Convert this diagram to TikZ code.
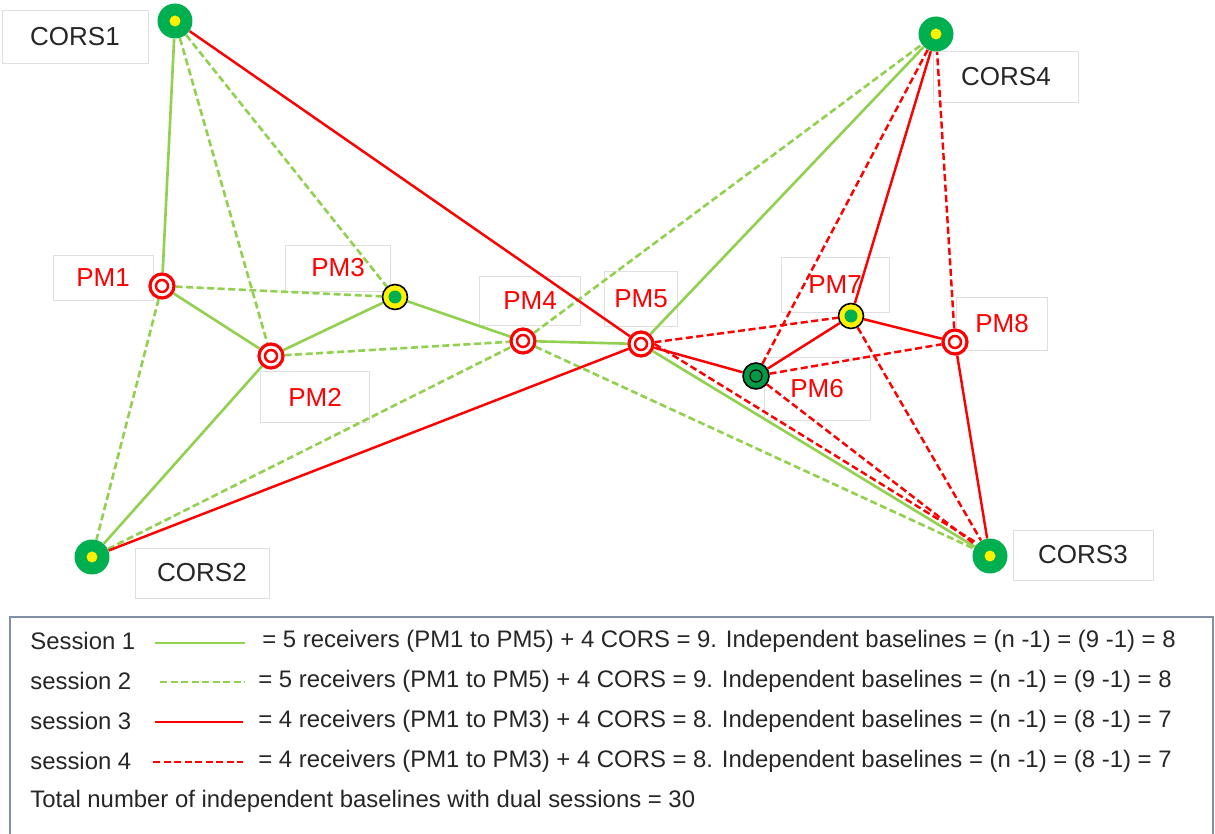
\documentclass[tikz,border=0pt]{standalone}
\usepackage{fontspec}
\setmainfont{Liberation Sans}
\usepackage{xcolor}
\usepackage{tikz}
\usetikzlibrary{positioning,backgrounds}

\definecolor{corsgreen}{HTML}{00B050}
\definecolor{pmgreen}{HTML}{009A44}
\definecolor{linegreen}{HTML}{92D050}
\definecolor{darktext}{HTML}{262626}
\definecolor{legframe}{HTML}{8090A8}

\begin{document}
\begin{tikzpicture}[x=0.02cm, y=-0.02cm,
    cors/.style={circle, fill=corsgreen, minimum size=0.7cm, inner sep=0pt,
        path picture={\fill[yellow] (path picture bounding box.center) circle (0.11cm);}},
    pmred/.style={circle, draw=red, line width=1.8pt, fill=white, minimum size=0.48cm, inner sep=0pt,
        path picture={\draw[red, line width=1.4pt] (path picture bounding box.center) circle (0.12cm);}},
    pmyel/.style={circle, draw=black, line width=0.9pt, fill=yellow, minimum size=0.5cm, inner sep=0pt,
        path picture={\fill[corsgreen] (path picture bounding box.center) circle (0.13cm);}},
    pmdark/.style={circle, draw=black, line width=0.9pt, fill=pmgreen, minimum size=0.52cm, inner sep=0pt,
        path picture={\draw[black, line width=0.7pt] (path picture bounding box.center) circle (0.12cm);}},
    namebox/.style={rectangle, draw=gray!25, fill=white, inner sep=0pt, font=\fontsize{14.8}{17}\selectfont},
    corsname/.style={namebox, text=darktext},
    pmname/.style={namebox, text=red},
    solidg/.style={linegreen, line width=1.5pt},
    dashg/.style={linegreen, line width=1.5pt, dash pattern=on 4pt off 2pt},
    solidr/.style={red, line width=1.4pt},
    dashr/.style={red, line width=1.4pt, dash pattern=on 4pt off 2pt},
    legtext/.style={anchor=west, inner sep=0pt, text=darktext, font=\fontsize{13.6}{16}\selectfont}
]
\useasboundingbox (0,0) rectangle (1215,834);

\node[cors] (c1) at (175,21) {};
\node[cors] (c2) at (92,557) {};
\node[cors] (c3) at (990,556) {};
\node[cors] (c4) at (936,34) {};

\node[pmred] (p1) at (162,286) {};
\node[pmred] (p2) at (271,356) {};
\node[pmyel] (p3) at (395,297) {};
\node[pmred] (p4) at (523,341) {};
\node[pmred] (p5) at (641,344) {};
\node[pmdark] (p6) at (756,376) {};
\node[pmyel] (p7) at (851,316) {};
\node[pmred] (p8) at (955,342) {};

\begin{scope}[on background layer]
\node[corsname, minimum width=2.92cm, minimum height=1.06cm] (lc1) at (75,37) {CORS1};
\node[corsname, minimum width=2.68cm, minimum height=1.0cm] (lc2) at (202,573) {CORS2};
\node[corsname, minimum width=2.8cm, minimum height=1.0cm] (lc3) at (1083,555) {CORS3};
\node[corsname, minimum width=2.9cm, minimum height=1.02cm] (lc4) at (1006,77) {CORS4};

\node[pmname, minimum width=2.0cm, minimum height=0.9cm] (lp1) at (103,278) {PM1};
\node[pmname, minimum width=2.18cm, minimum height=1.02cm] (lp2) at (315,397) {PM2};
\node[pmname, minimum width=2.1cm, minimum height=0.92cm] (lp3) at (338,268) {PM3};
\node[pmname, minimum width=2.02cm, minimum height=0.98cm] (lp4) at (530,301) {PM4};
\node[pmname, minimum width=1.46cm, minimum height=1.1cm] (lp5) at (641,299) {PM5};
\node[pmname, minimum width=2.12cm, minimum height=1.26cm] (lp6) at (817,389) {PM6};
\node[pmname, minimum width=2.16cm, minimum height=1.1cm] (lp7) at (835,285) {PM7};
\node[pmname, minimum width=1.82cm, minimum height=1.06cm] (lp8) at (1002,324) {PM8};

\draw[dashg] (c1) -- (p2);
\draw[dashg] (c1) -- (p3);
\draw[dashg] (p1) -- (p3);
\draw[dashg] (p1) -- (c2);
\draw[dashg] (p2) -- (p4);
\draw[dashg] (c2) -- (p4);
\draw[dashg] (p4) -- (c4);
\draw[dashg] (p4) -- (c3);

\draw[solidg] (c1) -- (p1);
\draw[solidg] (p1) -- (p2);
\draw[solidg] (p2) -- (p3);
\draw[solidg] (p3) -- (p4);
\draw[solidg] (p4) -- (p5);
\draw[solidg] (p2) -- (c2);
\draw[solidg] (p5) -- (c4);
\draw[solidg] (p5) -- (c3);

\draw[solidr] (c1) -- (p5);
\draw[solidr] (c2) -- (p5);
\draw[solidr] (p5) -- (p6);
\draw[solidr] (p6) -- (p7);
\draw[solidr] (p7) -- (p8);
\draw[solidr] (p7) -- (c4);
\draw[solidr] (p8) -- (c3);

\draw[dashr] (p5) -- (p7);
\draw[dashr] (p6) -- (c4);
\draw[dashr] (p8) -- (c4);
\draw[dashr] (p6) -- (p8);
\draw[dashr] (p7) -- (c3);
\draw[dashr] (p6) -- (c3);
\draw[dashr] (p5.east) -- (c3.north west);
\end{scope}

\draw[legframe, line width=0.8pt] (10,840) -- (10,617) -- (1213,617) -- (1213,840);

\node[legtext] (k1) at (30,641) {Session 1};
\node[legtext] (k2) at (30,681) {session 2};
\node[legtext] (k3) at (30,721) {session 3};
\node[legtext] (k4) at (30,761) {session 4};
\node[legtext] (k5) at (30,801) {Total number of independent baselines with dual sessions = 30};

\coordinate (a1) at (155,643);
\coordinate (b1) at (245,643);
\coordinate (a2) at (160,682);
\coordinate (b2) at (245,682);
\coordinate (a3) at (155,722);
\coordinate (b3) at (243,722);
\coordinate (a4) at (153,762);
\coordinate (b4) at (243,762);
\draw[solidg] (a1) -- (b1);
\draw[dashg] (a2) -- (b2);
\draw[solidr] (a3) -- (b3);
\draw[dashr] (a4) -- (b4);

\node[legtext] (t1) at (262,641) {= 5 receivers (PM1 to PM5) + 4 CORS = 9. Independent baselines = (n -1) = (9 -1) = 8};
\node[legtext] (t2) at (258,681) {= 5 receivers (PM1 to PM5) + 4 CORS = 9. Independent baselines = (n -1) = (9 -1) = 8};
\node[legtext] (t3) at (258,721) {= 4 receivers (PM1 to PM3) + 4 CORS = 8. Independent baselines = (n -1) = (8 -1) = 7};
\node[legtext] (t4) at (258,761) {= 4 receivers (PM1 to PM3) + 4 CORS = 8. Independent baselines = (n -1) = (8 -1) = 7};

\end{tikzpicture}
\end{document}
